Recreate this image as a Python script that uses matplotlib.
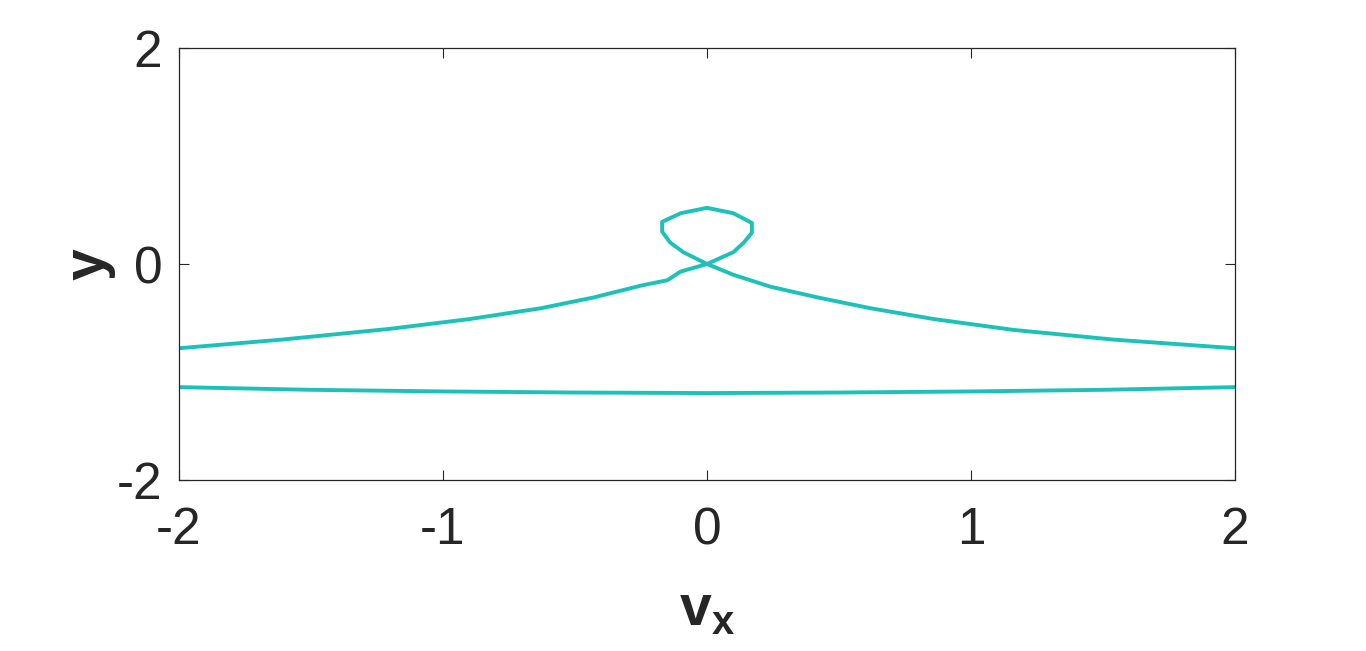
import matplotlib.pyplot as plt

# upper branch with the loop (traced from left to right)
upper_vx = [-2.0, -1.61, -1.20, -0.90, -0.63, -0.43, -0.25, -0.15, -0.10, 0.0,
            0.10, 0.14, 0.17, 0.17, 0.10, 0.0, -0.10, -0.17, -0.17, -0.14, -0.09, 0.0,
            0.10, 0.24, 0.42, 0.62, 0.86, 1.16, 1.54, 2.0]
upper_y = [-0.78, -0.70, -0.60, -0.51, -0.41, -0.31, -0.20, -0.15, -0.07, 0.0,
           0.11, 0.20, 0.29, 0.38, 0.47, 0.52, 0.47, 0.39, 0.30, 0.20, 0.11, 0.0,
           -0.10, -0.21, -0.31, -0.41, -0.51, -0.61, -0.70, -0.78]

# lower branch
lower_vx = [-2.0, -1.5, -1.0, -0.5, 0.0, 0.5, 1.0, 1.5, 2.0]
lower_y = [-1.14, -1.165, -1.18, -1.19, -1.195, -1.19, -1.18, -1.165, -1.14]

x_ticks = [-2, -1, 0, 1, 2]
y_ticks = [-2, 0, 2]

line_color = "#1cc2b8"
ax_color = "#262626"

plt.rcParams["font.family"] = ["Liberation Sans", "DejaVu Sans"]
plt.rcParams["axes.unicode_minus"] = False
plt.rcParams["mathtext.fontset"] = "custom"
plt.rcParams["mathtext.bf"] = "Liberation Sans:bold"

fig = plt.figure(figsize=(13.66, 6.51), dpi=100)
ax = fig.add_axes([179 / 1366, 1 - 480 / 651, (1235 - 179) / 1366, (480 - 48) / 651])

ax.plot(upper_vx, upper_y, color=line_color, linewidth=2.8, solid_joinstyle="round")
ax.plot(lower_vx, lower_y, color=line_color, linewidth=2.8)

ax.set_xlim(-2, 2)
ax.set_ylim(-2, 2)
ax.set_xticks(x_ticks)
ax.set_yticks(y_ticks)
ax.tick_params(direction="in", length=7, width=0.8, color=ax_color,
               labelsize=37, labelcolor=ax_color, top=True, right=True)
ax.tick_params(axis="x", pad=19)
ax.tick_params(axis="y", pad=12)
for s in ax.spines.values():
    s.set_color(ax_color)
    s.set_linewidth(0.9)

ax.set_xlabel(r"$\mathbf{v_x}$", fontsize=41, color=ax_color, labelpad=20)
ax.set_ylabel("y", fontsize=41, fontweight="bold", color=ax_color, labelpad=1)

fig.savefig("out.png", dpi=100)
